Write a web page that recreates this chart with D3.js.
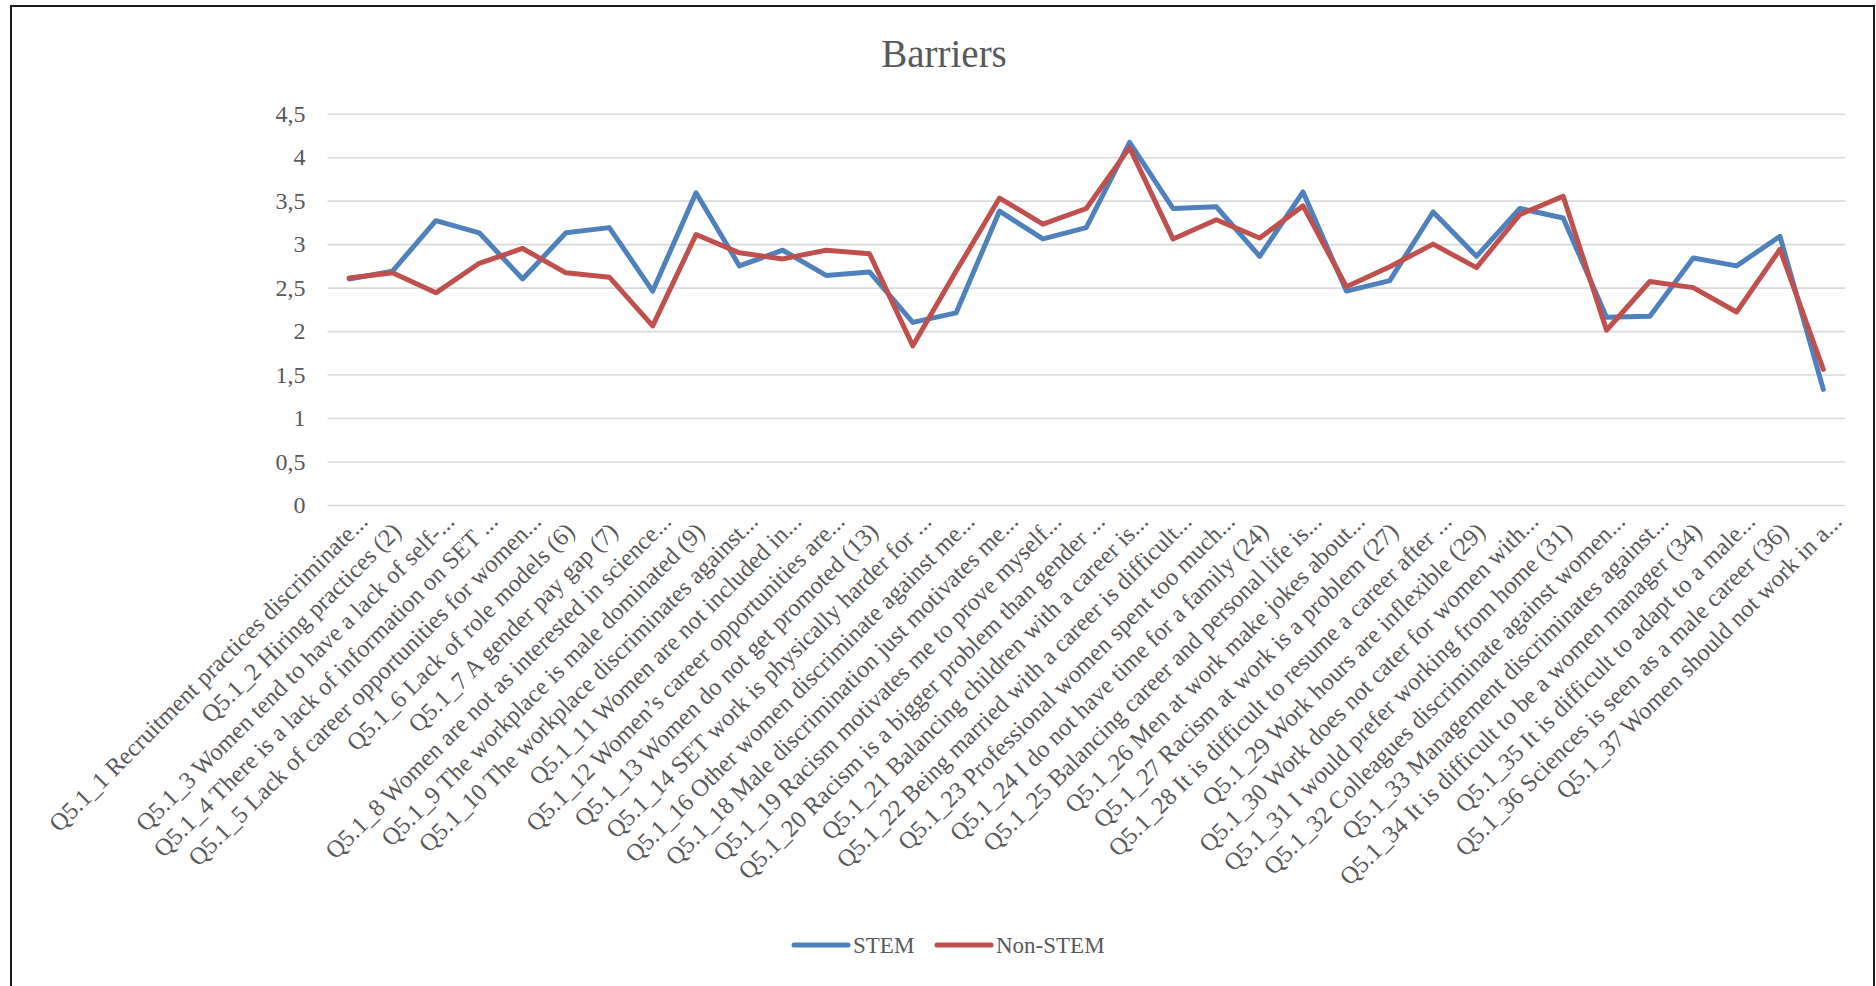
<!DOCTYPE html>
<html>
<head>
<meta charset="utf-8">
<script src="https://cdn.jsdelivr.net/npm/d3@7"></script>
<style>
  body { margin: 0; background: #fff; }
  text { font-family: "Liberation Serif", "DejaVu Serif", serif; fill: #595959; }
</style>
</head>
<body>
<div id="my_dataviz"></div>
<script>
// categories on the x axis
var categories = [
    "Q5.1_1 Recruitment practices discriminate...",
    "Q5.1_2 Hiring practices (2)",
    "Q5.1_3 Women tend to have a lack of self-...",
    "Q5.1_4 There is a lack of information on SET ...",
    "Q5.1_5 Lack of career opportunities for women...",
    "Q5.1_6 Lack of role models (6)",
    "Q5.1_7 A gender pay gap (7)",
    "Q5.1_8 Women are not as interested in science...",
    "Q5.1_9 The workplace is male dominated (9)",
    "Q5.1_10 The workplace discriminates against...",
    "Q5.1_11 Women are not included in...",
    "Q5.1_12 Women\u2019s career opportunities are...",
    "Q5.1_13 Women do not get promoted (13)",
    "Q5.1_14 SET work is physically harder for ...",
    "Q5.1_16 Other women discriminate against me...",
    "Q5.1_18 Male discrimination just motivates me...",
    "Q5.1_19 Racism motivates me to prove myself...",
    "Q5.1_20 Racism is a bigger problem than gender ...",
    "Q5.1_21 Balancing children with a career is...",
    "Q5.1_22 Being married with a career is difficult...",
    "Q5.1_23 Professional women spent too much...",
    "Q5.1_24 I do not have time for a family (24)",
    "Q5.1_25 Balancing career and personal life is...",
    "Q5.1_26 Men at work make jokes about...",
    "Q5.1_27 Racism at work is a problem (27)",
    "Q5.1_28 It is difficult to resume a career after ...",
    "Q5.1_29 Work hours are inflexible (29)",
    "Q5.1_30 Work does not cater for women with...",
    "Q5.1_31 I would prefer working from home (31)",
    "Q5.1_32 Colleagues discriminate against women...",
    "Q5.1_33 Management discriminates against...",
    "Q5.1_34 It is difficult to be a women manager (34)",
    "Q5.1_35 It is difficult to adapt to a male...",
    "Q5.1_36 Sciences is seen as a male career (36)",
    "Q5.1_37 Women should not work in a..."
];

// series values
var stem = [2.60, 2.69, 3.27, 3.13, 2.60, 3.13, 3.19, 2.46, 3.59, 2.75,
    2.93, 2.64, 2.68, 2.10, 2.21, 3.38, 3.06, 3.19, 4.17, 3.41,
    3.43, 2.86, 3.60, 2.46, 2.58, 3.37, 2.86, 3.41, 3.30, 2.16,
    2.17, 2.84, 2.75, 3.09, 1.33];
var nonStem = [2.61, 2.67, 2.44, 2.78, 2.95, 2.67, 2.62, 2.06, 3.11, 2.90,
    2.83, 2.93, 2.89, 1.83, 2.69, 3.53, 3.23, 3.41, 4.11, 3.06,
    3.28, 3.07, 3.44, 2.51, 2.74, 3.00, 2.73, 3.34, 3.55, 2.01,
    2.57, 2.50, 2.22, 2.94, 1.56];

var seriesNames = ["STEM", "Non-STEM"];
var yTicks = [0, 0.5, 1, 1.5, 2, 2.5, 3, 3.5, 4, 4.5];

var colors = ["#4F81BD", "#C0504D"];

// chart box
var W = 1876, H = 986;
var plot = { left: 327.5, right: 1845, top: 113.7, bottom: 505 };

var svg = d3.select("#my_dataviz")
    .append("svg")
    .attr("width", W)
    .attr("height", H);

// outer frame of the chart
svg.append("rect")
    .attr("x", 11).attr("y", 6)
    .attr("width", 1863).attr("height", 1010)
    .attr("fill", "#fff")
    .attr("stroke", "#1a1a1a")
    .attr("stroke-width", 2);

// title
svg.append("text")
    .attr("x", 944)
    .attr("y", 67)
    .attr("text-anchor", "middle")
    .style("font-size", "39px")
    .text("Barriers");

var x = d3.scaleBand()
    .domain(categories)
    .range([plot.left, plot.right]);

var y = d3.scaleLinear()
    .domain([0, 4.5])
    .range([plot.bottom, plot.top]);

function cx(d) { return x(d) + x.bandwidth() / 2; }

// gridlines + y labels via axisLeft
var yAxis = svg.append("g")
    .attr("transform", "translate(" + plot.left + ",0)")
    .call(d3.axisLeft(y)
        .tickValues(yTicks)
        .tickSize(-(plot.right - plot.left))
        .tickPadding(22)
        .tickFormat(function (d) { return String(d).replace(".", ","); }));
yAxis.select(".domain").remove();
yAxis.selectAll(".tick line")
    .attr("stroke", "#D9D9D9")
    .attr("stroke-width", 1.6);
yAxis.selectAll(".tick text")
    .style("font-size", "24px")
    .style("font-family", "\"Liberation Serif\", serif")
    .attr("fill", "#595959");

// rotated category labels
svg.append("g")
    .selectAll("text")
    .data(categories)
    .enter()
    .append("text")
    .attr("text-anchor", "end")
    .style("font-size", "24.5px")
    .attr("transform", function (d) {
        var back = d.endsWith(")") ? 10 : 0;
        return "translate(" + (cx(d) + 20 - back) + "," + (523 + back) + ") rotate(-45)";
    })
    .text(function (d) { return d; });

// the two lines
var line = d3.line()
    .x(function (d, i) { return cx(categories[i]); })
    .y(function (d) { return y(d); });

[stem, nonStem].forEach(function (vals, k) {
    svg.append("path")
        .datum(vals)
        .attr("fill", "none")
        .attr("stroke", colors[k])
        .attr("stroke-width", 5)
        .attr("stroke-linejoin", "round")
        .attr("stroke-linecap", "round")
        .attr("d", line);
});

// legend
var legend = svg.append("g");
var legX = [794, 937];
seriesNames.forEach(function (name, k) {
    legend.append("line")
        .attr("x1", legX[k]).attr("x2", legX[k] + 54)
        .attr("y1", 945).attr("y2", 945)
        .attr("stroke", colors[k])
        .attr("stroke-width", 5)
        .attr("stroke-linecap", "round");
    legend.append("text")
        .attr("x", legX[k] + 59)
        .attr("y", 953)
        .style("font-size", "23px")
        .text(name);
});
</script>
</body>
</html>
